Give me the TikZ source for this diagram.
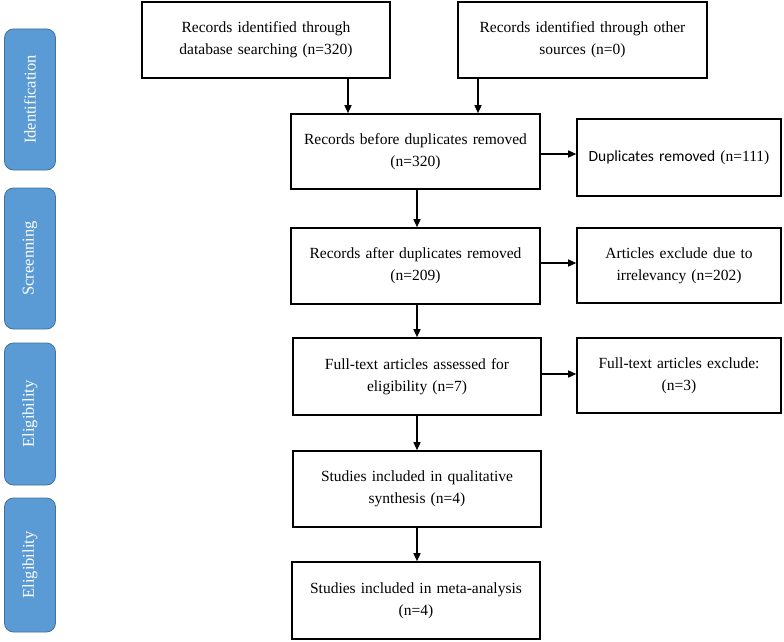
\documentclass[tikz,border=0pt]{standalone}
\usepackage{fontspec}
\setmainfont{Liberation Serif}
\newfontfamily\calib{Carlito}
\usetikzlibrary{arrows.meta}
\definecolor{barfill}{HTML}{5B9BD5}
\definecolor{barline}{HTML}{41719C}
\begin{document}
\begin{tikzpicture}[x=1pt,y=-1pt,
  box/.style={draw=black,line width=1.6pt,fill=white,align=center,inner sep=0pt,
    font=\fontsize{15.5}{22}\selectfont,text width=#1-12pt,minimum width=#1},
  box/.default=249pt,
  bar/.style={draw=barline,line width=0.8pt,fill=barfill,rounded corners=9pt,
    minimum height=51pt,inner sep=0pt,text=white,rotate=90,
    font=\fontsize{16.5}{18}\selectfont},
  arr/.style={line width=1.4pt,-{Triangle[length=8pt,width=7pt]}}]
\useasboundingbox (0,0) rectangle (784,642);
% side bars
\node[bar,minimum width=141pt] (sid) at (30,99.5) {Identification};
\node[bar,minimum width=141pt] (sscr) at (30,258.5) {Screenning};
\node[bar,minimum width=142pt] (sel1) at (30,414) {Eligibility};
\node[bar,minimum width=134pt] (sel2) at (30,565) {Eligibility};
% boxes
\node[box=248pt,minimum height=76pt] (b1) at (266,40) {Records identified through\\database searching (n=320)};
\node[box=249pt,minimum height=76pt] (b2) at (582.5,40) {Records identified through other\\sources (n=0)};
\node[box=249pt,minimum height=75pt] (b3) at (415.5,151.5) {Records before duplicates removed\\(n=320)};
\node[box=204pt,minimum height=77pt] (dup) at (679,157.5) {{\calib Duplicates removed} (n=111)};
\node[box=249pt,minimum height=76pt] (b4) at (415.5,266) {Records after duplicates removed\\(n=209)};
\node[box=204pt,minimum height=75pt] (irr) at (679,265.5) {Articles exclude due to\\irrelevancy (n=202)};
\node[box=248pt,minimum height=77pt] (b5) at (417,376.5) {Full-text articles assessed for\\eligibility (n=7)};
\node[box=204pt,minimum height=75pt] (exc) at (679,375.5) {Full-text articles exclude:\\(n=3)};
\node[box=248pt,minimum height=76pt] (b6) at (417,489) {Studies included in qualitative\\synthesis (n=4)};
\node[box=248pt,minimum height=77pt] (b7) at (416,600.5) {Studies included in meta-analysis\\(n=4)};
% guide coordinates
\coordinate (xa) at (348,0);
\coordinate (xb) at (478,0);
\coordinate (xc) at (417,0);
\coordinate (ya) at (0,154);
\coordinate (yb) at (0,263);
\coordinate (yc) at (0,374);
% connectors
\draw[arr] (b1.south -| xa) -- (b3.north -| xa);
\draw[arr] (b2.south -| xb) -- (b3.north -| xb);
\draw[arr] (b3.east |- ya) -- (dup.west |- ya);
\draw[arr] (b3.south -| xc) -- (b4.north -| xc);
\draw[arr] (b4.east |- yb) -- (irr.west |- yb);
\draw[arr] (b4.south -| xc) -- (b5.north -| xc);
\draw[arr] (b5.east |- yc) -- (exc.west |- yc);
\draw[arr] (b5.south -| xc) -- (b6.north -| xc);
\draw[arr] (b6.south -| xc) -- (b7.north -| xc);
\end{tikzpicture}
\end{document}
